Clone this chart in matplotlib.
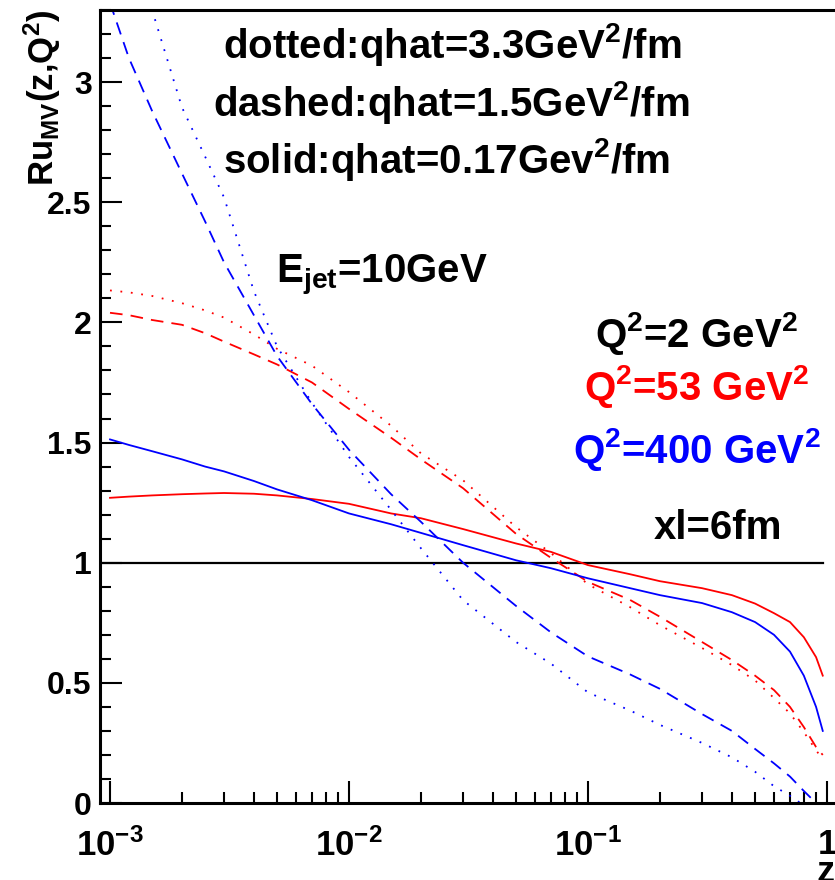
import matplotlib
matplotlib.use('Agg')
import matplotlib.pyplot as plt
from matplotlib.ticker import FixedLocator, FixedFormatter, MultipleLocator, NullFormatter

plt.rcParams['font.family'] = ['Liberation Sans', 'DejaVu Sans']
plt.rcParams['font.weight'] = 'bold'
plt.rcParams['mathtext.fontset'] = 'custom'
plt.rcParams['mathtext.rm'] = 'Liberation Sans:bold'
plt.rcParams['mathtext.it'] = 'Liberation Sans:bold'
plt.rcParams['mathtext.bf'] = 'Liberation Sans:bold'
plt.rcParams['mathtext.sf'] = 'Liberation Sans:bold'
plt.rcParams['mathtext.default'] = 'rm'

# ---------------- data ----------------
z = [0.001, 0.0012, 0.0015, 0.002, 0.0025, 0.003, 0.004, 0.005, 0.007, 0.01, 0.015,
     0.02, 0.03, 0.05, 0.07, 0.1, 0.15, 0.2, 0.3, 0.4, 0.5, 0.6, 0.7, 0.8, 0.9, 0.96]

# Q^2 = 53 GeV^2 (red)
q53_solid = [1.27, 1.275, 1.28, 1.285, 1.288, 1.29, 1.287, 1.28, 1.265, 1.245, 1.205,
             1.185, 1.14, 1.08, 1.045, 0.99, 0.952, 0.923, 0.894, 0.865, 0.83, 0.79,
             0.753, 0.69, 0.607, 0.53]
q53_dashed = [2.04, 2.03, 2.01, 1.99, 1.955, 1.92, 1.867, 1.825, 1.75, 1.64, 1.52,
              1.43, 1.31, 1.12, 1.02, 0.92, 0.845, 0.775, 0.67, 0.595, 0.53, 0.47,
              0.40, 0.316, 0.233, 0.20]
q53_dotted = [2.133, 2.125, 2.11, 2.08, 2.05, 2.02, 1.95, 1.89, 1.82, 1.71, 1.57,
              1.455, 1.343, 1.148, 1.04, 0.91, 0.815, 0.74, 0.645, 0.574, 0.51, 0.437,
              0.373, 0.295, 0.22, 0.18]

# Q^2 = 400 GeV^2 (blue)
q400_solid = [1.513, 1.49, 1.464, 1.43, 1.40, 1.38, 1.34, 1.305, 1.26, 1.205, 1.16,
              1.124, 1.073, 1.01, 0.977, 0.935, 0.894, 0.865, 0.832, 0.794, 0.753, 0.70,
              0.63, 0.53, 0.40, 0.30]
q400_dashed = [3.33, 3.10, 2.88, 2.62, 2.42, 2.25, 2.03, 1.86, 1.66, 1.47, 1.285,
               1.17, 1.0, 0.82, 0.71, 0.61, 0.535, 0.475, 0.37, 0.30, 0.225, 0.165,
               0.11, 0.05, 0.0, -0.03]
q400_dotted = [4.0, 3.72, 3.3, 2.895, 2.69, 2.52, 2.13, 1.9, 1.665, 1.44, 1.22,
               1.06, 0.844, 0.67, 0.58, 0.46, 0.385, 0.325, 0.25, 0.19, 0.13, 0.07,
               0.03, -0.01, -0.05, -0.08]

ref_z = [0.0009, 0.96]
ref_y = [1.0, 1.0]

y_ticks = [0, 0.5, 1, 1.5, 2, 2.5, 3]
y_ticklabels = ['0', '0.5', '1', '1.5', '2', '2.5', '3']
x_ticks = [0.001, 0.01, 0.1, 1]
x_ticklabels = ['$10^{-3}$', '$10^{-2}$', '$10^{-1}$', '1']

# ---------------- figure ----------------
W, H = 835, 880
fig = plt.figure(figsize=(W / 100, H / 100), dpi=100)
ax_left, ax_right, ax_top, ax_bottom = 100, 835, 10, 803
ax = fig.add_axes([ax_left / W, 1 - ax_bottom / H,
                   (ax_right - ax_left) / W, (ax_bottom - ax_top) / H])

def fpos(x, y):
    return x / W, 1 - y / H

lw = 1.3
dash = (0, (7, 4.5))
dot = (0, (1, 4.8))

ax.plot(ref_z, ref_y, color='black', lw=1.6)
ax.plot(z, q53_solid, color='red', lw=lw)
ax.plot(z, q53_dashed, color='red', lw=lw, linestyle=dash)
ax.plot(z, q53_dotted, color='red', lw=lw, linestyle=dot)
ax.plot(z, q400_solid, color='blue', lw=lw)
ax.plot(z, q400_dashed, color='blue', lw=lw, linestyle=dash)
ax.plot(z, q400_dotted, color='blue', lw=lw, linestyle=dot)

ax.set_xscale('log')
ax.set_xlim(10 ** (-3 + (ax_left - 110) / 239), 10 ** (-3 + (ax_right - 110) / 239))
ax.set_ylim(0, 3.3)

ax.xaxis.set_major_locator(FixedLocator(x_ticks))
ax.xaxis.set_major_formatter(FixedFormatter(x_ticklabels))
minor_x = [m * 10.0 ** e for e in (-3, -2, -1) for m in range(2, 10)]
ax.xaxis.set_minor_locator(FixedLocator(minor_x))
ax.xaxis.set_minor_formatter(NullFormatter())
ax.yaxis.set_major_locator(FixedLocator(y_ticks))
ax.yaxis.set_major_formatter(FixedFormatter(y_ticklabels))
ax.yaxis.set_minor_locator(MultipleLocator(0.1))

ax.tick_params(which='both', direction='in', width=1.5, colors='black')
ax.tick_params(which='major', length=16)
ax.tick_params(which='minor', length=8)
ax.tick_params(axis='x', which='major', pad=18, labelsize=25)
ax.tick_params(axis='y', which='major', pad=6, labelsize=23)
for s in ('left', 'bottom', 'top'):
    ax.spines[s].set_linewidth(2.2)
ax.spines['right'].set_visible(False)

# axis titles
fig.text(*fpos(42, 10), r'Ru$_{MV}$(z,Q$^{2}$)', rotation=90, ha='center', va='top',
         fontsize=25, fontweight='bold')
fig.text(*fpos(826, 882), 'z', ha='center', va='baseline', fontsize=26, fontweight='bold')

# annotations
ann = 29
fig.text(*fpos(452, 58), r'dotted:qhat=3.3GeV$^{2}$/fm', ha='center', va='baseline',
         fontsize=ann, fontweight='bold')
fig.text(*fpos(451, 116), r'dashed:qhat=1.5GeV$^{2}$/fm', ha='center', va='baseline',
         fontsize=ann, fontweight='bold')
fig.text(*fpos(447, 173), r'solid:qhat=0.17Gev$^{2}$/fm', ha='center', va='baseline',
         fontsize=ann, fontweight='bold')
fig.text(*fpos(382, 282), r'E$_{jet}$=10GeV', ha='center', va='baseline',
         fontsize=ann, fontweight='bold')
fig.text(*fpos(697, 347), r'Q$^{2}$=2 GeV$^{2}$', ha='center', va='baseline',
         fontsize=ann, fontweight='bold', color='black')
fig.text(*fpos(697, 400), r'Q$^{2}$=53 GeV$^{2}$', ha='center', va='baseline',
         fontsize=ann, fontweight='bold', color='red')
fig.text(*fpos(697, 463), r'Q$^{2}$=400 GeV$^{2}$', ha='center', va='baseline',
         fontsize=ann, fontweight='bold', color='blue')
fig.text(*fpos(718, 539), 'xl=6fm', ha='center', va='baseline',
         fontsize=ann, fontweight='bold')

fig.savefig('out.png', dpi=100)
